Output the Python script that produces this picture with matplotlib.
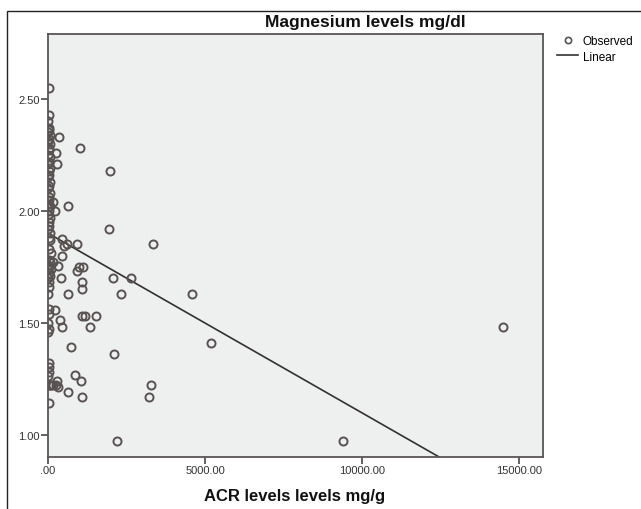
import numpy as np
import matplotlib
matplotlib.use("Agg")
from matplotlib import pyplot as plt
from matplotlib.lines import Line2D

# ----------------------------------------------------
# Data
# ----------------------------------------------------

# points stacked near ACR = 0
acr_low = [30, 20, 10, 20, 40, 10, 60, 30, 10, 50, 20, 40, 10, 60, 30, 10,
           50, 20, 40, 10, 60, 30, 10, 50, 20, 40, 10, 60, 30, 10, 50, 20,
           40, 10, 50, 20, 60, 30, 100, 20, 60, 10, 40, 80, 20, 50, 10, 30,
           20, 10, 30, 20, 10, 30, 10, 40, 20, 30, 10, 20, 60, 100, 30]
mg_low = [2.55, 2.43, 2.40, 2.37, 2.36, 2.35, 2.34, 2.32, 2.31, 2.30, 2.28,
          2.27, 2.25, 2.24, 2.22, 2.21, 2.19, 2.18, 2.16, 2.15, 2.13, 2.11,
          2.10, 2.08, 2.06, 2.05, 2.03, 2.02, 2.00, 1.98, 1.97, 1.95, 1.93,
          1.92, 1.90, 1.88, 1.87, 1.83, 1.81, 1.78, 1.77, 1.76, 1.75, 1.74,
          1.72, 1.71, 1.70, 1.68, 1.66, 1.63, 1.56, 1.54, 1.50, 1.47, 1.46,
          1.32, 1.30, 1.28, 1.26, 1.22, 1.22, 1.22, 1.14]

# scattered points
acr_high = [350, 1020, 255, 290, 1975, 640, 220, 170, 1945, 3350, 445, 600,
            920, 500, 445, 170, 320, 1110, 990, 925, 410, 2080, 2640, 1080,
            1080, 635, 2320, 4580, 220, 380, 445, 1080, 1180, 1530, 1340, 730,
            2100, 5190, 860, 1050, 290, 320, 640, 1080, 3280, 3215, 2200,
            14490, 9400, 170, 250]
mg_high = [2.33, 2.28, 2.26, 2.21, 2.18, 2.02, 2.00, 2.04, 1.92, 1.85, 1.875,
           1.85, 1.85, 1.845, 1.80, 1.77, 1.755, 1.75, 1.75, 1.73, 1.70, 1.70,
           1.70, 1.68, 1.65, 1.63, 1.63, 1.63, 1.555, 1.51, 1.48, 1.53, 1.53,
           1.53, 1.48, 1.39, 1.36, 1.41, 1.265, 1.24, 1.24, 1.215, 1.19, 1.17,
           1.22, 1.17, 0.97, 1.48, 0.97, 1.22, 1.22]

# linear fit as drawn
fit_intercept = 1.90
fit_slope = -8.03e-5

x_ticks = [0, 5000, 10000, 15000]
x_ticklabels = [".00", "5000.00", "10000.00", "15000.00"]
y_ticks = [1.0, 1.5, 2.0, 2.5]
y_ticklabels = ["1.00", "1.50", "2.00", "2.50"]

# ----------------------------------------------------
# Figure
# ----------------------------------------------------

plt.rcParams["font.family"] = ["Liberation Sans", "DejaVu Sans"]

fig = plt.figure(figsize=(6.41, 5.10), dpi=100)
ax = fig.add_axes([48 / 641, 1 - 458 / 510, 495 / 641, 423 / 510])
ax.set_facecolor("#eeefef")

acr = np.array(acr_low + acr_high, dtype=float)
mg = np.array(mg_low + mg_high, dtype=float)

ax.plot(acr, mg, linestyle="none", marker="o", markersize=5.8,
        markerfacecolor="none", markeredgecolor="#595252",
        markeredgewidth=1.4, zorder=3)

x_fit = np.array([0.0, 15760.0])
ax.plot(x_fit, fit_intercept + fit_slope * x_fit, color="#333030",
        linewidth=1.2, zorder=2)

ax.set_xlim(0, 15760)
ax.set_ylim(0.90, 2.79)
ax.set_xticks(x_ticks)
ax.set_xticklabels(x_ticklabels)
ax.set_yticks(y_ticks)
ax.set_yticklabels(y_ticklabels)
ax.tick_params(axis="both", direction="out", length=5, width=1.2,
               color="#4a4545", labelsize=8, labelcolor="#333333", pad=1)

for sp in ax.spines.values():
    sp.set_color("#5a5555")
    sp.set_linewidth(1.3)

fig.text(365 / 641, 1 - 23 / 510, "Magnesium levels mg/dl", ha="center",
         va="center", fontsize=12.5, fontweight="bold", color="#111111")
fig.text(295 / 641, 1 - 497 / 510, "ACR levels levels mg/g", ha="center",
         va="center", fontsize=12, fontweight="bold", color="#111111")

# outer chart border (top and left edges visible)
fig.add_artist(plt.Rectangle((7 / 641, -0.1), 1.2, 1.1 - 12 / 510,
                             transform=fig.transFigure, fill=False,
                             edgecolor="#222222", linewidth=1.0))

handles = [
    Line2D([], [], linestyle="none", marker="o", markersize=4.5,
           markerfacecolor="none", markeredgecolor="#595252",
           markeredgewidth=1.2),
    Line2D([], [], color="#333030", linewidth=1.2),
]
fig.legend(handles, ["Observed", "Linear"], loc="upper left",
           bbox_to_anchor=(557 / 641, 1 - 36 / 510), frameon=False,
           fontsize=8.5, handlelength=1.8, handletextpad=0.4,
           labelspacing=0.3, borderaxespad=0, borderpad=0)

fig.savefig("out.png", dpi=100)
